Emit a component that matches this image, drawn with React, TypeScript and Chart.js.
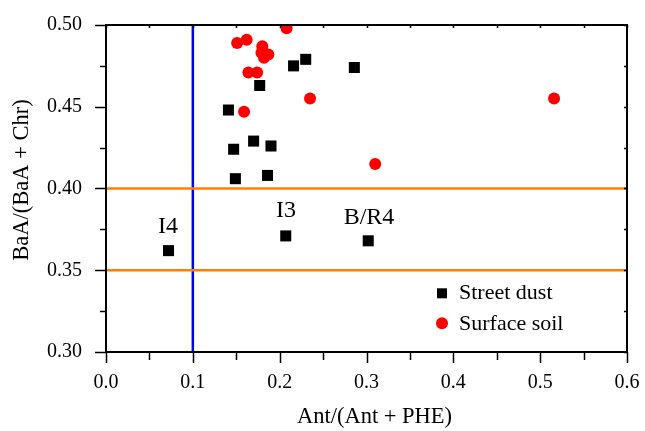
import { useEffect, useRef } from 'react';
import { Chart, registerables } from 'chart.js';

Chart.register(...registerables);

// Diagnostic ratios of PAHs in street dust and surface soil
const streetDustX = [0.216, 0.230, 0.286, 0.177, 0.141, 0.170, 0.190, 0.147, 0.186, 0.149, 0.072, 0.207, 0.302];
const streetDustY = [0.475, 0.479, 0.474, 0.463, 0.448, 0.429, 0.426, 0.424, 0.408, 0.406, 0.362, 0.371, 0.368];

const surfaceSoilX = [0.208, 0.151, 0.162, 0.180, 0.179, 0.187, 0.182, 0.164, 0.174, 0.235, 0.159, 0.310, 0.516];
const surfaceSoilY = [0.498, 0.489, 0.491, 0.487, 0.483, 0.482, 0.480, 0.471, 0.471, 0.455, 0.447, 0.415, 0.455];

// Source boundaries
const antBoundary = 0.1;
const baaBoundaries = [0.35, 0.40];

// Axis ranges and ticks
const xMin = 0;
const xMax = 0.6;
const xMajorStep = 0.1;
const yMin = 0.3;
const yMax = 0.5;
const yMajorStep = 0.05;

// Zone annotations
const zoneLabels = ['I4', 'I3', 'B/R4'];
const zoneLabelX = [0.0714, 0.2074, 0.3029];
const zoneLabelY = [0.3727, 0.3825, 0.3782];

const seriesNames = ['Street dust', 'Surface soil'];
const seriesColors = ['#000000', '#ff0000'];

const SERIF = '"Liberation Serif", "Times New Roman", serif';

const frameAndTextPlugin = {
  id: 'frameAndText',
  afterDatasetsDraw(chart: any) {
    const { ctx, chartArea, scales } = chart;
    const { left, right, top, bottom } = chartArea;
    const xs = scales.x;
    const ys = scales.y;
    ctx.save();

    // Tick marks: outward on left/bottom, tiny inward on top/right
    ctx.strokeStyle = '#000';
    ctx.lineWidth = 1.5;
    ctx.beginPath();
    const xCount = Math.round((xMax - xMin) / (xMajorStep / 2));
    for (let i = 0; i <= xCount; i++) {
      const v = xMin + (i * xMajorStep) / 2;
      const px = Math.round(xs.getPixelForValue(v)) + 0.5;
      const major = i % 2 === 0;
      ctx.moveTo(px, bottom);
      ctx.lineTo(px, bottom + (major ? 11 : 8));
      ctx.moveTo(px, top);
      ctx.lineTo(px, top + 3);
    }
    const yCount = Math.round((yMax - yMin) / (yMajorStep / 2));
    for (let i = 0; i <= yCount; i++) {
      const v = yMin + (i * yMajorStep) / 2;
      const py = Math.round(ys.getPixelForValue(v)) + 0.5;
      const major = i % 2 === 0;
      ctx.moveTo(left, py);
      ctx.lineTo(left - (major ? 11 : 6), py);
      ctx.moveTo(right, py);
      ctx.lineTo(right - 3, py);
    }
    ctx.stroke();

    // Plot frame
    ctx.lineWidth = 2;
    ctx.strokeRect(left, top, right - left, bottom - top);

    // Zone labels
    ctx.fillStyle = '#000';
    ctx.font = `24px ${SERIF}`;
    ctx.textAlign = 'center';
    ctx.textBaseline = 'alphabetic';
    zoneLabels.forEach((t, i) => {
      ctx.fillText(t, xs.getPixelForValue(zoneLabelX[i]), ys.getPixelForValue(zoneLabelY[i]));
    });

    // Legend
    const lx = right - 185;
    const rowY = [bottom - 58.7, bottom - 28.7];
    ctx.fillStyle = seriesColors[0];
    ctx.fillRect(lx - 5, rowY[0] - 5, 10, 10);
    ctx.fillStyle = seriesColors[1];
    ctx.beginPath();
    ctx.arc(lx, rowY[1], 6, 0, Math.PI * 2);
    ctx.fill();
    ctx.fillStyle = '#000';
    ctx.font = `22px ${SERIF}`;
    ctx.textAlign = 'left';
    ctx.fillText(seriesNames[0], lx + 17, rowY[0] + 6);
    ctx.fillText(seriesNames[1], lx + 17, rowY[1] + 7);

    // Axis titles
    ctx.font = `22.5px ${SERIF}`;
    ctx.textAlign = 'center';
    ctx.fillText('Ant/(Ant + PHE)', (left + right) / 2 + 8, bottom + 71);
    ctx.save();
    ctx.translate(28, (top + bottom) / 2 - 8.5);
    ctx.rotate(-Math.PI / 2);
    ctx.fillText('BaA/(BaA + Chr)', 0, 0);
    ctx.restore();

    ctx.restore();
  },
};

export default function App() {
  const canvasRef = useRef<HTMLCanvasElement | null>(null);

  useEffect(() => {
    const canvas = canvasRef.current;
    if (!canvas) return;

    const chart = new Chart(canvas, {
      type: 'scatter',
      data: {
        datasets: [
          {
            label: seriesNames[0],
            data: streetDustX.map((x, i) => ({ x, y: streetDustY[i] })),
            pointStyle: 'rect',
            pointRadius: 7.8,
            backgroundColor: seriesColors[0],
            borderWidth: 0,
          },
          {
            label: seriesNames[1],
            data: surfaceSoilX.map((x, i) => ({ x, y: surfaceSoilY[i] })),
            pointStyle: 'circle',
            pointRadius: 6,
            backgroundColor: seriesColors[1],
            borderWidth: 0,
          },
          ...baaBoundaries.map((b) => ({
            type: 'line' as const,
            label: `BaA ${b}`,
            data: [
              { x: xMin, y: b },
              { x: xMax, y: b },
            ],
            showLine: true,
            borderColor: '#ff7f00',
            borderWidth: 2.5,
            pointRadius: 0,
          })),
          {
            type: 'line' as const,
            label: `Ant ${antBoundary}`,
            data: [
              { x: antBoundary, y: yMin },
              { x: antBoundary, y: yMax },
            ],
            showLine: true,
            borderColor: '#0000ff',
            borderWidth: 2.5,
            pointRadius: 0,
          },
        ] as any,
      },
      options: {
        responsive: true,
        maintainAspectRatio: false,
        animation: false,
        layout: { padding: { top: 25, right: 18, left: 0, bottom: 0 } },
        plugins: {
          legend: { display: false },
          tooltip: { enabled: false },
        },
        scales: {
          x: {
            type: 'linear',
            min: xMin,
            max: xMax,
            grid: { display: false, drawTicks: false },
            border: { display: false },
            ticks: {
              stepSize: xMajorStep,
              padding: 19,
              color: '#000',
              font: { family: SERIF, size: 20 },
              callback: (v: any) => Number(v).toFixed(1),
            },
            afterFit: (s: any) => {
              s.height = 79;
              s.paddingLeft = 0;
              s.paddingRight = 0;
              s.paddingTop = 0;
              s.paddingBottom = 0;
            },
          },
          y: {
            type: 'linear',
            min: yMin,
            max: yMax,
            grid: { display: false, drawTicks: false },
            border: { display: false },
            ticks: {
              stepSize: yMajorStep,
              padding: 24,
              color: '#000',
              font: { family: SERIF, size: 20 },
              callback: (v: any) => Number(v).toFixed(2),
            },
            afterFit: (s: any) => {
              s.width = 106;
              s.paddingLeft = 0;
              s.paddingRight = 0;
              s.paddingTop = 0;
              s.paddingBottom = 0;
            },
          },
        },
      },
      plugins: [frameAndTextPlugin],
    });

    return () => chart.destroy();
  }, []);

  return (
    <div style={{ position: 'fixed', left: 0, top: 0, width: 645, height: 431, background: '#fff' }}>
      <canvas ref={canvasRef} />
    </div>
  );
}
